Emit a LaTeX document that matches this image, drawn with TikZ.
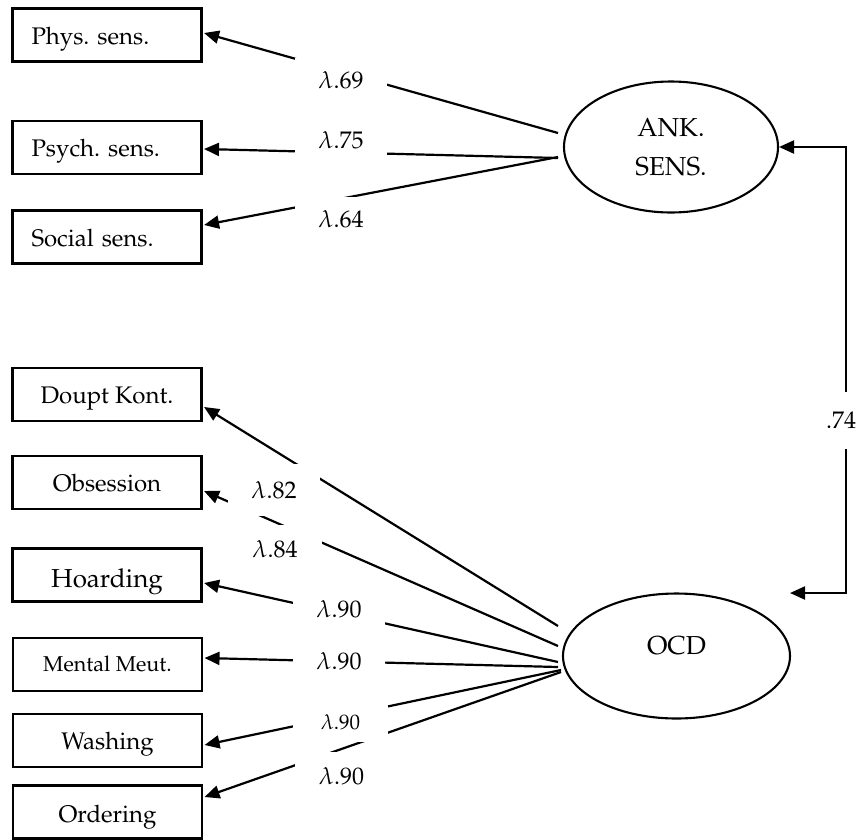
\documentclass[tikz,border=0pt]{standalone}
\usepackage[T1]{fontenc}
\usepackage{mathpazo}
\usetikzlibrary{shapes.geometric,arrows.meta,calc}
\frenchspacing
\tikzset{
 obs/.style={draw, line width=2.1pt, minimum width=189pt, minimum height=53pt, inner sep=0pt,
   text height=18pt, text depth=0pt, font=\fontsize{24}{28}\selectfont\frenchspacing},
 obsleft/.style={obs, inner xsep=19pt, text width=151pt, align=left},
 lat/.style={draw, ellipse, line width=2.1pt, inner sep=0pt, font=\fontsize{26}{39}\selectfont, align=center},
 load/.style={line width=2.2pt, -{Triangle[length=15pt,width=13pt]}},
 corr/.style={line width=2.2pt, {Triangle[length=15pt,width=13pt]}-{Triangle[length=15pt,width=13pt]}},
 coef/.style={fill=white, inner sep=0pt, font=\fontsize{24}{28}\selectfont},
}
\begin{document}
\begin{tikzpicture}[x=1pt,y=-1pt]
\useasboundingbox (0,0) rectangle (859,839);
% indicators
\node[obsleft] (phys) at (107,35) {Phys. sens.};
\node[obsleft] (psych) at (107,147.5) {Psych. sens.};
\node[obsleft] (social) at (107,237) {Social sens.};
\node[obs] (doupt) at (107,394.5) {Doupt Kont.};
\node[obs] (obsn) at (107,482.5) {Obsession};
\node[obs, text height=24pt, font=\fontsize{26}{30}\selectfont] (hoard) at (107,575) {Hoarding};
\node[obs, text height=13pt, font=\fontsize{21.5}{26}\selectfont] (mental) at (107.5,664.5) {Mental Meut.};
\node[obs] (wash) at (107.5,740.5) {Washing};
\node[obs, text height=20pt] (order) at (107.5,812) {Ordering};
% latents
\node[lat, minimum width=214pt, minimum height=131pt] (ank) at (671,147) {ANK.\\SENS.};
\node[lat, minimum width=227pt, minimum height=125pt, text height=18pt, text depth=22pt] (ocd) at (676.5,656) {OCD};
% connector end points at latents
\coordinate (a1) at (558,133);
\coordinate (a2) at (558,158);
\coordinate (a3) at (558,157);
\coordinate (o1) at (558,626);
\coordinate (o2) at (558,646);
\coordinate (o3) at (558,662);
\coordinate (o4) at (558,667);
\coordinate (o5) at (561,670);
\coordinate (o6) at (561,672);
% loadings
\draw[load] (a1) -- ([xshift=1.5pt,yshift=2pt]phys.east);
\draw[load] (a2) -- ([xshift=1.5pt,yshift=-1.5pt]psych.east);
\draw[load] (a3) -- ([xshift=1.5pt,yshift=12pt]social.east);
\draw[load] (o1) -- ([xshift=1.5pt,yshift=-12.5pt]doupt.east);
\draw[load] (o2) -- ([xshift=1.5pt,yshift=-8.5pt]obsn.east);
\draw[load] (o3) -- ([xshift=1.5pt,yshift=-8pt]hoard.east);
\draw[load] (o4) -- ([xshift=1.5pt,yshift=6.5pt]mental.east);
\draw[load] (o5) -- ([xshift=1.5pt,yshift=-4.5pt]wash.east);
\draw[load] (o6) -- ([xshift=1.5pt,yshift=15pt]order.east);
% correlation
\coordinate (rb) at (846,593);
\coordinate (ot) at (790,593);
\draw[corr] (ank.east) -| (rb) -- (ot);
% coefficient labels
\node[coef, minimum width=92pt, minimum height=44pt] (c69) at (341,80) {$\lambda$.69};
\node[coef, minimum width=92pt, minimum height=44pt] (c75) at (341,140) {$\lambda$.75};
\node[coef, minimum width=92pt, minimum height=44pt] (c64) at (341,219) {$\lambda$.64};
\node[coef, minimum width=92pt, minimum height=52pt] (c82) at (274,490) {$\lambda$.82};
\node[coef, minimum width=94pt, minimum height=48pt] (c84) at (275,549) {$\lambda$.84};
\node[coef, minimum width=92pt, minimum height=40pt] (c90a) at (339,609.5) {$\lambda$.90};
\node[coef, minimum width=92pt, minimum height=40pt] (c90b) at (339,661) {$\lambda$.90};
\node[coef, minimum width=95pt, minimum height=40pt, font=\fontsize{21}{24}\selectfont] (c90c) at (340.5,722) {$\lambda$.90};
\node[coef, minimum width=93pt, minimum height=48pt] (c90d) at (341.5,776) {$\lambda$.90};
\node[coef, minimum width=36pt, minimum height=57pt] (c74) at (841,420.5) {.74};
\end{tikzpicture}
\end{document}
